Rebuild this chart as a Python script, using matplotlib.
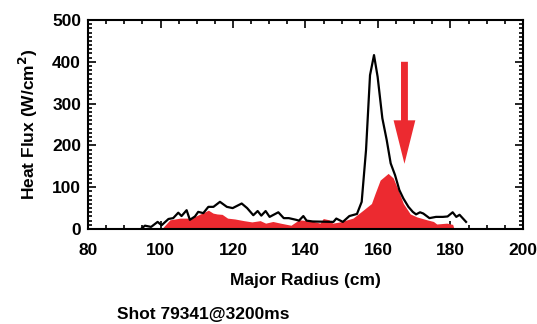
import numpy as np
import matplotlib.pyplot as plt
from matplotlib.ticker import MultipleLocator

plt.rcParams['font.family'] = ['Liberation Sans', 'DejaVu Sans']
plt.rcParams['font.weight'] = 'bold'
fs = 12.5

# black trace (total heat flux)
r_line = [94.6, 95.7, 97.4, 99.2, 100.3, 102.2, 103.5, 104.9, 105.8, 107.2, 108.1,
          109.5, 110.4, 111.8, 113.2, 114.6, 116.4, 118.3, 119.9, 122.4, 123.9,
          125.6, 126.8, 127.8, 129.0, 130.1, 132.5, 134.0, 135.4, 137.4, 138.2,
          139.4, 140.3, 142.0, 147.7, 148.5, 150.3, 152.1, 154.2, 155.5, 156.7,
          157.8, 158.9, 159.9, 161.2, 162.4, 163.5, 164.7, 165.9, 167.0, 168.4,
          169.6, 170.5, 171.6, 172.5, 174.2, 176.0, 177.9, 179.2, 180.6, 181.6,
          182.5, 184.3]
q_line = [0, 8, 5, 17, 9, 24, 26, 39, 31, 45, 22, 30, 41, 38, 53, 53, 65, 53, 50, 61,
          50, 33, 43, 32, 43, 29, 40, 26, 26, 22, 20, 31, 20, 18, 17, 25, 17, 31, 36,
          65, 189, 368, 416, 364, 265, 213, 157, 129, 93, 73, 53, 41, 35, 40, 37,
          26, 29, 29, 30, 40, 29, 34, 17]

# red filled trace
r_fill = [100.3, 102.6, 105.4, 108.1, 109.5, 111.5, 113.2, 114.5, 115.6, 117.0,
          118.5, 120.5, 123.0, 125.2, 127.5, 129.0, 131.0, 133.1, 136.0, 138.2,
          140.5, 142.3, 144.0, 144.9, 146.5, 147.5, 149.5, 153.1, 155.9, 158.2,
          159.2, 160.6, 162.8, 164.2, 165.6, 167.0, 168.9, 170.7, 173.5, 175.3,
          176.2, 179.0, 180.6, 181.0]
q_fill = [0, 22, 26, 26, 30, 38, 45, 38, 36, 35, 26, 24, 20, 17, 20, 14, 18, 14, 9,
          22, 20, 18, 14, 25, 22, 14, 17, 26, 45, 61, 85, 117, 133, 122, 93, 61, 36,
          29, 22, 18, 12, 14, 11, 0]

xticks = [80, 100, 120, 140, 160, 180, 200]
yticks = [0, 100, 200, 300, 400, 500]

red = '#EC2A30'

fig = plt.figure(figsize=(5.37, 3.24), dpi=100)
ax = fig.add_axes([0.1639, 0.2932, 0.81, 0.6451])

ax.fill_between(r_fill, 0, q_fill, color=red, lw=0, zorder=2)
ax.plot(r_line, q_line, color='black', lw=1.6, zorder=3)

# arrow marking the strike point
ax.arrow(167.3, 400, 0, -140, width=1.9, head_width=6.0, head_length=104,
         length_includes_head=False, color=red, lw=0, zorder=4)

ax.set_xlim(80, 200)
ax.set_ylim(0, 500)
ax.set_xticks(xticks)
ax.set_yticks(yticks)
ax.xaxis.set_minor_locator(MultipleLocator(5))
ax.yaxis.set_minor_locator(MultipleLocator(10))
ax.tick_params(which='both', direction='in', top=True, right=True, width=1.2)
ax.tick_params(which='major', length=6, labelsize=fs)
ax.tick_params(axis='x', which='major', pad=10)
ax.tick_params(axis='y', which='major', pad=5)
ax.tick_params(which='minor', length=3)
for s in ax.spines.values():
    s.set_linewidth(1.5)
for lab in ax.get_xticklabels() + ax.get_yticklabels():
    lab.set_fontweight('bold')

ax.set_xlabel('Major Radius (cm)', fontsize=fs, fontweight='bold', labelpad=11)
ax.set_ylabel('Heat Flux (W/cm$^\\mathbf{2}$)', fontsize=fs, fontweight='bold', labelpad=9)
fig.text(0.218, 0.03, 'Shot 79341@3200ms', fontsize=fs, fontweight='bold', ha='left', va='center')

fig.savefig('out.png', dpi=100)
